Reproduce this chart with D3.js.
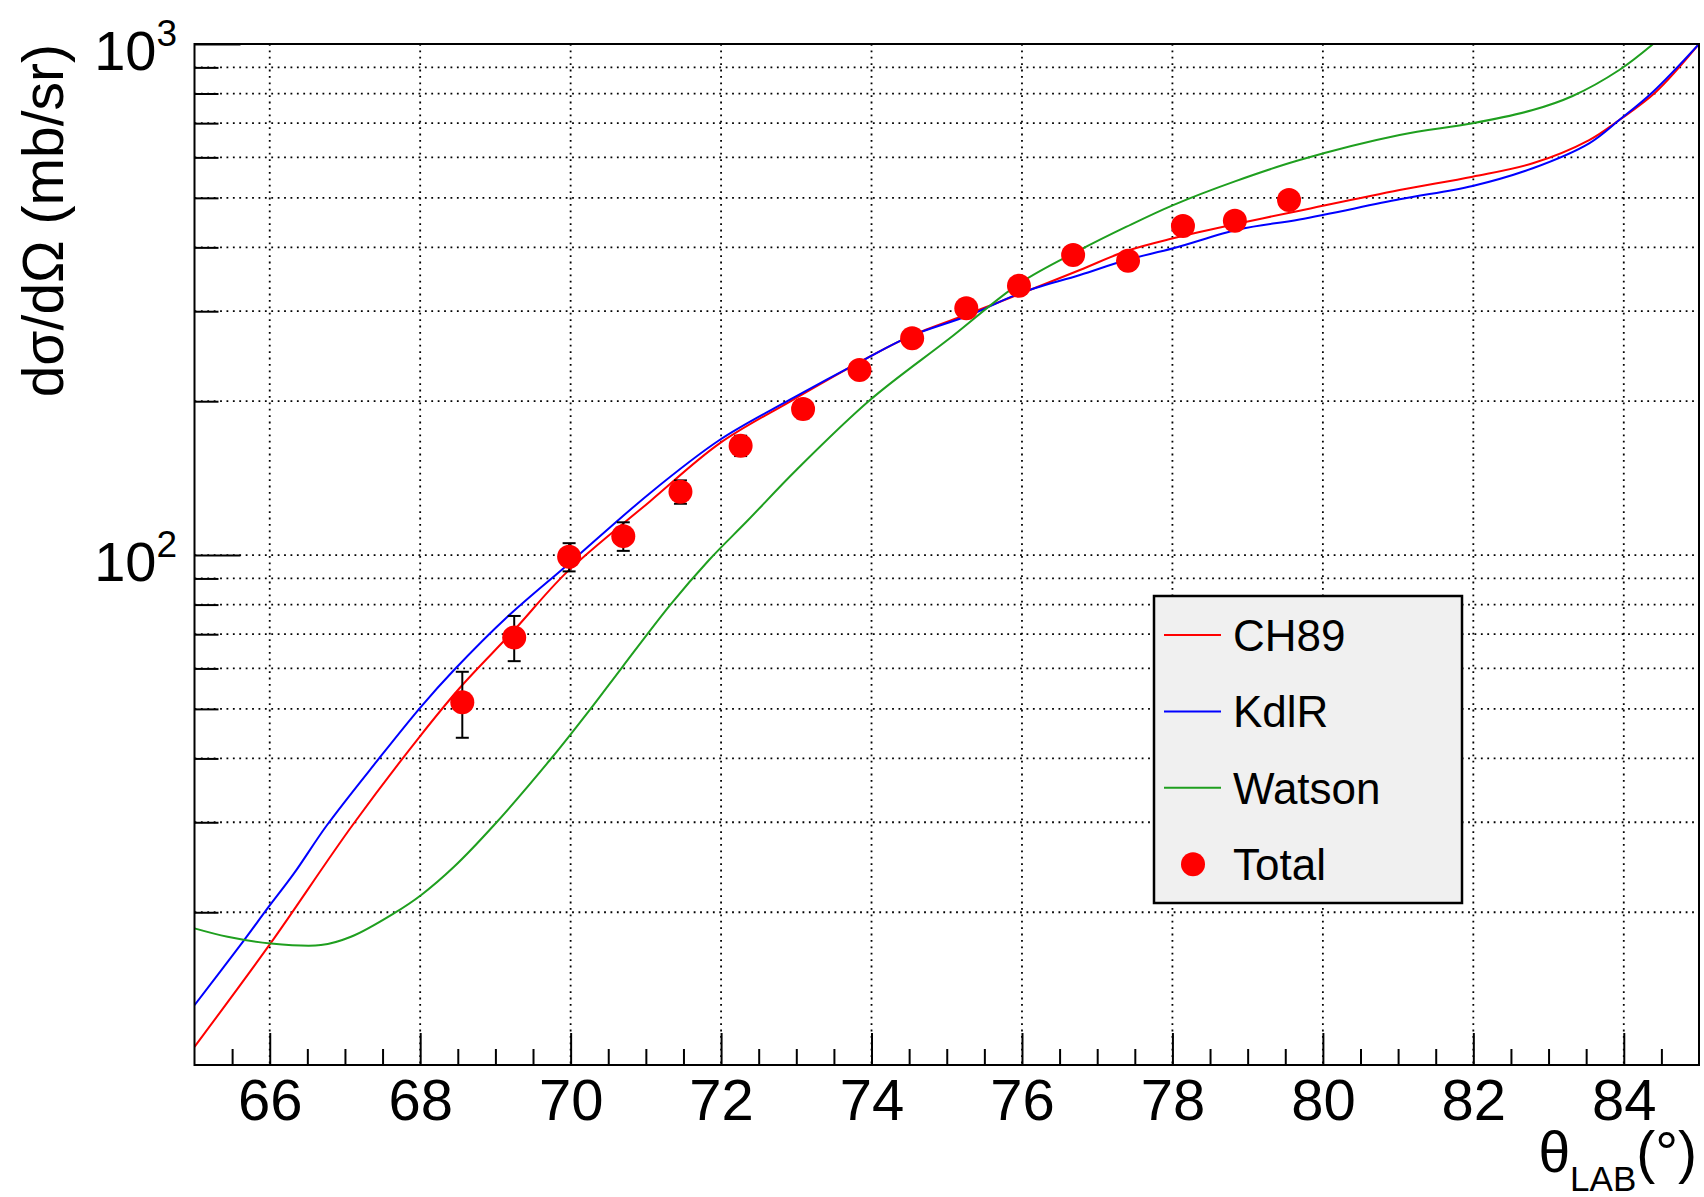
<!DOCTYPE html>
<html>
<head>
<meta charset="utf-8">
<script src="https://cdn.jsdelivr.net/npm/d3@7"></script>
<style>
  html, body { margin: 0; padding: 0; background: #fff; }
  svg { display: block; }
</style>
</head>
<body>
<svg id="chart" width="1704" height="1197"></svg>
<script>
// ---- measured cross section (Total) ----
const thetaLab = [68.56, 69.25, 69.98, 70.70, 71.46, 72.26, 73.09, 73.84, 74.54, 75.26, 75.96, 76.68, 77.41, 78.14, 78.83, 79.55];
const totalXS  = [51.5, 69.0, 99.2, 108.9, 133.0, 163.7, 193.1, 230.1, 265.6, 304.0, 336.5, 386.5, 376.6, 440.5, 451.1, 495.2];
const totalErr = [7.6, 7.0, 6.3, 7.0, 7.0, 7.5, 8, 8, 8, 8, 8, 8, 8, 8, 8, 8];

// ---- model calculations ----
const ch89Theta = [65.00, 66.01, 67.10, 68.01, 68.54, 69.25, 69.95, 71.05, 71.98, 72.91, 73.89, 74.51, 75.31, 75.97, 76.77, 77.39, 78.01, 78.89, 79.69, 81.02, 81.99, 82.79, 83.54, 83.94, 84.43, 85.00];
const ch89XS    = [10.91, 17.38, 29.6, 44.44, 55.25, 71.33, 92.6, 127.2, 165.4, 199.5, 240.7, 267.9, 297.2, 324.2, 361.2, 393.5, 416.7, 445.9, 471.9, 518.0, 550.0, 584.2, 648.7, 710.0, 806.6, 1000];

const kdlrTheta = [65.00, 65.66, 65.97, 66.32, 66.76, 67.43, 68.01, 68.45, 69.16, 69.98, 71.05, 71.98, 72.91, 73.89, 74.51, 75.31, 75.97, 76.77, 77.39, 78.01, 78.89, 79.69, 81.02, 81.99, 82.79, 83.54, 83.94, 84.39, 85.00];
const kdlrXS    = [13.16, 17.64, 20.35, 23.8, 29.6, 39.6, 50.47, 59.57, 75.73, 96.3, 132.0, 167.9, 201.1, 240.7, 267.9, 294.9, 325.2, 353.2, 377.8, 398.3, 434.0, 453.6, 496.7, 527.4, 571.3, 639.2, 710.0, 806.6, 1000];

const watsonTheta = [65.00, 65.44, 66.01, 66.68, 67.08, 67.65, 68.01, 68.45, 68.98, 69.75, 70.27, 70.69, 71.33, 71.84, 72.36, 73.00, 73.98, 75.04, 75.97, 76.77, 77.39, 78.01, 78.84, 79.69, 81.02, 81.99, 82.79, 83.32, 83.94, 84.39];
const watsonXS    = [18.60, 17.91, 17.38, 17.25, 17.91, 19.90, 21.60, 24.55, 29.6, 40.12, 50.12, 60.45, 80.08, 97.8, 117.1, 146.7, 201.1, 265.6, 340.2, 395.3, 439.1, 484.0, 539.2, 592.9, 663.6, 699.5, 742.6, 791.2, 889.5, 1000];

// ---- axes ----
const xDomain = [65, 85];
const yDomain = [10.05, 1000];
const xMajorTicks = [66, 68, 70, 72, 74, 76, 78, 80, 82, 84];
const xTickLabels = ["66", "68", "70", "72", "74", "76", "78", "80", "82", "84"];
const yMajorTicks = [100, 1000];
const yTickExponents = ["2", "3"];
const yMinorTicks = [20, 30, 40, 50, 60, 70, 80, 90, 200, 300, 400, 500, 600, 700, 800, 900];

const seriesNames = ["CH89", "KdlR", "Watson"];
const dataName = "Total";
const seriesColors = ["#ff0000", "#0000ff", "#1f9f1f"];

const FONT = "'Liberation Sans', Arial, Helvetica, sans-serif";
const frame = { left: 194.5, right: 1699, top: 44, bottom: 1065 };

const svg = d3.select("#chart");
svg.append("rect").attr("width", 1704).attr("height", 1197).attr("fill", "#fff");

const x = d3.scaleLinear().domain(xDomain).range([frame.left, frame.right]);
const y = d3.scaleLog().domain(yDomain).range([frame.bottom, frame.top]);

// dotted grid
const grid = svg.append("g")
  .attr("stroke", "#000").attr("stroke-width", 1.8)
  .attr("stroke-dasharray", "1.8,4.6");
grid.selectAll("line.gx").data(xMajorTicks).join("line")
  .attr("class", "gx")
  .attr("x1", d => x(d)).attr("x2", d => x(d))
  .attr("y1", frame.top).attr("y2", frame.bottom);
grid.selectAll("line.gy").data(yMinorTicks.concat([100])).join("line")
  .attr("class", "gy")
  .attr("x1", frame.left).attr("x2", frame.right)
  .attr("y1", d => y(d)).attr("y2", d => y(d));

// ticks (pointing into the frame)
const xMinorTicks = d3.range(65.5, 85, 0.5).filter(v => !xMajorTicks.includes(v));

function styleAxis(g) {
  g.select(".domain").remove();
  g.selectAll(".tick line").attr("stroke", "#000").attr("stroke-width", 2);
}

svg.append("g")
  .attr("transform", `translate(0,${frame.bottom})`)
  .call(d3.axisBottom(x).tickValues(xMinorTicks).tickSize(-16).tickFormat(""))
  .call(styleAxis);

const xAxisG = svg.append("g")
  .attr("transform", `translate(0,${frame.bottom})`)
  .call(d3.axisBottom(x).tickValues(xMajorTicks).tickSize(-32).tickPadding(14)
    .tickFormat((d, i) => xTickLabels[i]))
  .call(styleAxis);
xAxisG.selectAll(".tick text")
  .attr("font-family", FONT).attr("font-size", 58).attr("fill", "#000");

svg.append("g")
  .attr("transform", `translate(${frame.left},0)`)
  .call(d3.axisLeft(y).tickValues(yMinorTicks).tickSize(-24).tickFormat(""))
  .call(styleAxis);
svg.append("g")
  .attr("transform", `translate(${frame.left},0)`)
  .call(d3.axisLeft(y).tickValues(yMajorTicks).tickSize(-46).tickFormat(""))
  .call(styleAxis);

// 10^n labels
const yLab = svg.append("g").attr("font-family", FONT).attr("fill", "#000");
yMajorTicks.forEach((v, i) => {
  const t = yLab.append("text")
    .attr("x", 177).attr("y", y(v) + 25.5)
    .attr("text-anchor", "end").attr("font-size", 56);
  t.append("tspan").text("10");
  t.append("tspan").attr("font-size", 37).attr("dy", -24).text(yTickExponents[i]);
});

// axis titles
svg.append("text")
  .attr("transform", `translate(63,${frame.top}) rotate(-90)`)
  .attr("text-anchor", "end")
  .attr("font-family", FONT).attr("font-size", 57).attr("fill", "#000")
  .text("dσ/dΩ (mb/sr)");

const xt = svg.append("text")
  .attr("x", 1697).attr("y", 1172)
  .attr("text-anchor", "end")
  .attr("font-family", FONT).attr("font-size", 57).attr("fill", "#000");
xt.append("tspan").text("θ");
xt.append("tspan").attr("font-size", 35).attr("dy", 19).text("LAB");
xt.append("tspan").attr("dy", -19).text("(°)");

// curves
svg.append("clipPath").attr("id", "plotClip")
  .append("rect")
  .attr("x", frame.left).attr("y", frame.top)
  .attr("width", frame.right - frame.left).attr("height", frame.bottom - frame.top);

const curves = [
  d3.zip(ch89Theta, ch89XS),
  d3.zip(kdlrTheta, kdlrXS),
  d3.zip(watsonTheta, watsonXS)
];
const line = d3.line().x(d => x(d[0])).y(d => y(d[1])).curve(d3.curveCatmullRom.alpha(0.5));
const curveG = svg.append("g").attr("clip-path", "url(#plotClip)");
curveG.selectAll("path").data(curves).join("path")
  .attr("d", line)
  .attr("fill", "none")
  .attr("stroke", (d, i) => seriesColors[i])
  .attr("stroke-width", 2);

// data points with error bars
const points = thetaLab.map((t, i) => ({ t, v: totalXS[i], e: totalErr[i] }));
const errG = svg.append("g").attr("stroke", "#000").attr("stroke-width", 2);
errG.selectAll("line.bar").data(points).join("line")
  .attr("class", "bar")
  .attr("x1", d => x(d.t)).attr("x2", d => x(d.t))
  .attr("y1", d => y(d.v + d.e)).attr("y2", d => y(d.v - d.e));
errG.selectAll("line.capHi").data(points).join("line")
  .attr("class", "capHi")
  .attr("x1", d => x(d.t) - 6.5).attr("x2", d => x(d.t) + 6.5)
  .attr("y1", d => y(d.v + d.e)).attr("y2", d => y(d.v + d.e));
errG.selectAll("line.capLo").data(points).join("line")
  .attr("class", "capLo")
  .attr("x1", d => x(d.t) - 6.5).attr("x2", d => x(d.t) + 6.5)
  .attr("y1", d => y(d.v - d.e)).attr("y2", d => y(d.v - d.e));

svg.append("g").selectAll("circle").data(points).join("circle")
  .attr("cx", d => x(d.t)).attr("cy", d => y(d.v))
  .attr("r", 12).attr("fill", "#ff0000");

// frame
svg.append("rect")
  .attr("x", frame.left).attr("y", frame.top)
  .attr("width", frame.right - frame.left).attr("height", frame.bottom - frame.top)
  .attr("fill", "none").attr("stroke", "#000").attr("stroke-width", 2);

// legend
const legend = svg.append("g").attr("font-family", FONT);
legend.append("rect")
  .attr("x", 1154).attr("y", 596).attr("width", 308).attr("height", 307)
  .attr("fill", "#f0f0f0").attr("stroke", "#000").attr("stroke-width", 2.5);
const entries = seriesNames.map((n, i) => ({ name: n, color: seriesColors[i], kind: "line" }))
  .concat([{ name: dataName, color: "#ff0000", kind: "marker" }]);
const ent = legend.selectAll("g.entry").data(entries).join("g")
  .attr("class", "entry")
  .attr("transform", (d, i) => `translate(0,${635 + i * 76.4})`);
ent.filter(d => d.kind === "line").append("line")
  .attr("x1", 1164).attr("x2", 1221).attr("y1", 0).attr("y2", 0)
  .attr("stroke", d => d.color).attr("stroke-width", 2);
ent.filter(d => d.kind === "marker").append("circle")
  .attr("cx", 1193).attr("cy", 0).attr("r", 12).attr("fill", d => d.color);
ent.append("text")
  .attr("x", 1233).attr("y", 16)
  .attr("font-size", 44).attr("fill", "#000")
  .text(d => d.name);
</script>
</body>
</html>
